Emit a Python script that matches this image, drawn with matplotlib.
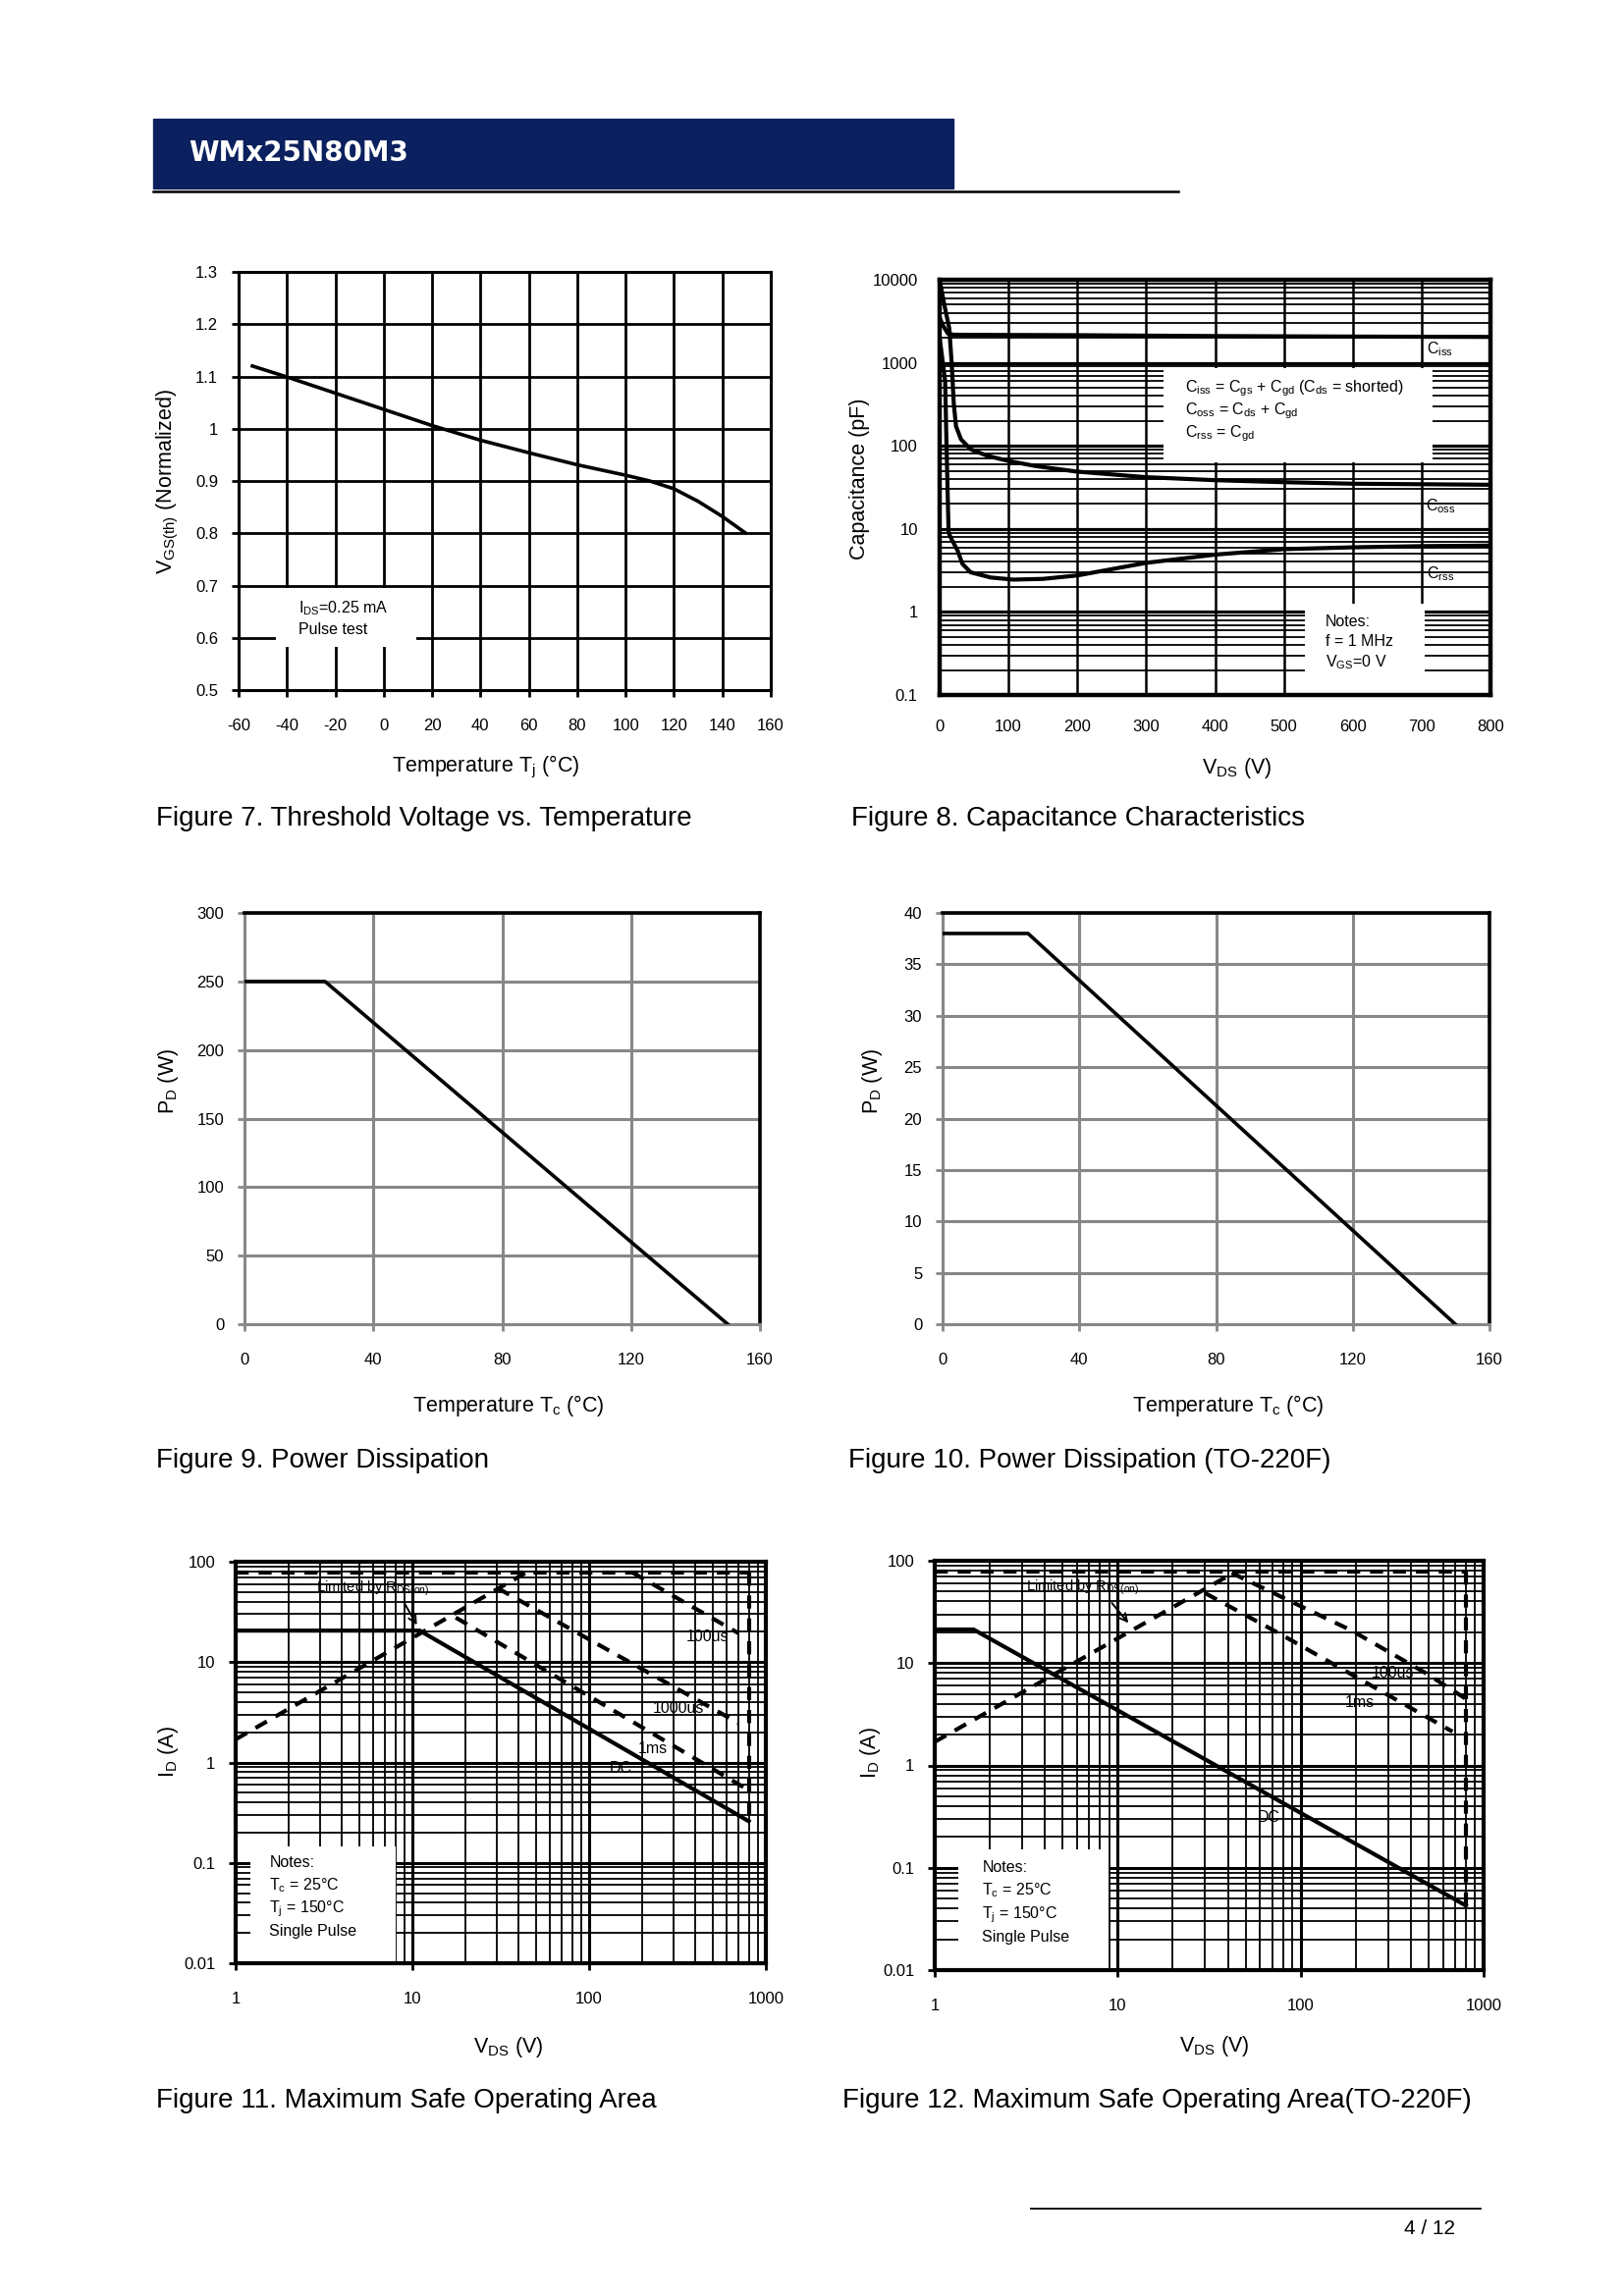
import matplotlib
matplotlib.use('Agg')
import matplotlib.pyplot as plt
from matplotlib.patches import Rectangle
from matplotlib.lines import Line2D
from matplotlib.ticker import FixedLocator, LogLocator, NullFormatter
import numpy as np

plt.rcParams['font.family'] = ['Liberation Sans', 'DejaVu Sans']
plt.rcParams['mathtext.fontset'] = 'custom'
plt.rcParams['mathtext.rm'] = 'Liberation Sans'
plt.rcParams['mathtext.it'] = 'Liberation Sans:italic'
plt.rcParams['mathtext.bf'] = 'Liberation Sans:bold'
plt.rcParams['axes.unicode_minus'] = False

# ---------------- data ----------------
# Figure 7: threshold voltage vs temperature
vth_temp = [-55, -40, -20, 0, 20, 40, 60, 80, 100, 110, 120, 130, 140, 150]
vth_norm = [1.121, 1.099, 1.068, 1.037, 1.006, 0.978, 0.954, 0.931, 0.911, 0.900, 0.885, 0.861, 0.832, 0.799]
vth_xticks = [-60, -40, -20, 0, 20, 40, 60, 80, 100, 120, 140, 160]
vth_yticks = [0.5, 0.6, 0.7, 0.8, 0.9, 1.0, 1.1, 1.2, 1.3]
vth_ylabels = ['0.5', '0.6', '0.7', '0.8', '0.9', '1', '1.1', '1.2', '1.3']

# Figure 8: capacitance
ciss_v = [0, 5, 12, 20, 50, 200, 400, 600, 800]
ciss_c = [3500, 2800, 2250, 2180, 2170, 2150, 2100, 2070, 2050]
coss_v = [0, 7, 14, 17.6, 20.5, 23.8, 31, 45, 69, 99, 140, 199, 299, 400, 500, 600, 700, 800]
coss_c = [10000, 4900, 2600, 960, 325, 172, 120, 91, 76, 66, 57, 49, 42, 38.6, 36.5, 35, 34.5, 34]
crss_v = [0, 4, 8, 10, 12, 13, 17, 26, 33, 45, 74, 107, 150, 200, 300, 400, 500, 600, 700, 800]
crss_c = [2000, 1100, 600, 100, 20, 9, 7.6, 5.5, 3.8, 3.0, 2.6, 2.45, 2.5, 2.75, 3.9, 4.9, 5.7, 6.0, 6.2, 6.3]
cap_yticks = [0.1, 1, 10, 100, 1000, 10000]
cap_ylabels = ['0.1', '1', '10', '100', '1000', '10000']
cap_xticks = [0, 100, 200, 300, 400, 500, 600, 700, 800]

# Figure 9 / 10: power dissipation
pd_temp = [0, 25, 150]
pd_w = [250, 250, 0]
pd_f_w = [38, 38, 0]
pd_xticks = [0, 40, 80, 120, 160]
pd_yticks = [0, 50, 100, 150, 200, 250, 300]
pd_f_yticks = [0, 5, 10, 15, 20, 25, 30, 35, 40]

# Figure 11: SOA
soa_xticks = [1, 10, 100, 1000]
soa_yticks = [0.01, 0.1, 1, 10, 100]
soa_ylabels = ['0.01', '0.1', '1', '10', '100']
soa_xlabels = ['1', '10', '100', '1000']
soa_imax = 78
soa_vmax = 800
s11_dc_v = [1, 11, 800]
s11_dc_i = [20.6, 20.6, 0.26]
s11_rds_v = [1, 44]
s11_rds_i = [1.7, 78]
s11_100us_v = [176, 700]
s11_100us_i = [78, 19.4]
s11_1000us_v = [30.4, 700]
s11_1000us_i = [54.5, 2.47]
s11_1ms_v = [17.6, 785]
s11_1ms_i = [27.8, 0.54]

# Figure 12: SOA (TO-220F)
s12_dc_v = [1, 1.63, 800]
s12_dc_i = [21.3, 21.3, 0.0427]
s12_rds_v = [1, 44]
s12_rds_i = [1.7, 78]
s12_100us_v = [42, 96.6, 189, 485, 796]
s12_100us_i = [76, 37.1, 20.9, 7.95, 4.5]
s12_1ms_v = [30.1, 77.5, 210, 676]
s12_1ms_i = [48.2, 19.2, 7.0, 2.14]

# ---------------- figure ----------------
W, H = 1654, 2339
fig = plt.figure(figsize=(W / 100, H / 100), dpi=100)


def rect(x0, y0, x1, y1):
    return [x0 / W, 1 - y1 / H, (x1 - x0) / W, (y1 - y0) / H]


def fx(x):
    return x / W


def fy(y):
    return 1 - y / H


TICK_FS = 12
LAB_FS = 15.5
CAP_FS = 20
NOTE_FS = 11.5


def set_labels(ax, xl, yl, xlc, ylc):
    ax.set_xlabel(xl, fontsize=LAB_FS)
    ax.set_ylabel(yl, fontsize=LAB_FS)
    ax.xaxis.label.set_va('center')
    ax.yaxis.label.set_va('center')
    ax.xaxis.set_label_coords(*xlc)
    ax.yaxis.set_label_coords(*ylc)


# header
fig.patches.append(Rectangle((fx(156), fy(192)), (971 - 156) / W, (192 - 121) / H,
                             transform=fig.transFigure, color='#0b205e', zorder=0))
fig.add_artist(Line2D([fx(156), fx(1200)], [fy(195), fy(195)], color='k', lw=1.8))
fig.text(fx(192), fy(156), 'WMx25N80M3', color='white', fontsize=20,
         fontweight='bold', family='DejaVu Sans', va='center', ha='left')

# footer
fig.add_artist(Line2D([fx(1050), fx(1508)], [fy(2250), fy(2250)], color='k', lw=1.3))
fig.text(fx(1482), fy(2270), '4 / 12', ha='right', va='center', fontsize=15)

# captions
fig.text(fx(159), fy(834), 'Figure 7. Threshold Voltage vs. Temperature', fontsize=CAP_FS, va='center')
fig.text(fx(867), fy(834), 'Figure 8. Capacitance Characteristics', fontsize=CAP_FS, va='center')
fig.text(fx(159), fy(1488), 'Figure 9. Power Dissipation', fontsize=CAP_FS, va='center')
fig.text(fx(864), fy(1488), 'Figure 10. Power Dissipation (TO-220F)', fontsize=CAP_FS, va='center')
fig.text(fx(159), fy(2140), 'Figure 11. Maximum Safe Operating Area', fontsize=CAP_FS, va='center')
fig.text(fx(858), fy(2140), 'Figure 12. Maximum Safe Operating Area(TO-220F)', fontsize=CAP_FS, va='center')

# ---------- Figure 7 ----------
ax = fig.add_axes(rect(243, 277, 785, 703))
ax.set_xlim(-60, 160)
ax.set_ylim(0.5, 1.3)
ax.set_xticks(vth_xticks)
ax.set_yticks(vth_yticks)
ax.set_yticklabels(vth_ylabels)
ax.grid(color='k', lw=2.0)
ax.set_axisbelow(True)
for s in ax.spines.values():
    s.set_linewidth(2.2)
ax.tick_params(direction='out', length=5, width=2, labelsize=TICK_FS)
ax.tick_params(axis='x', pad=16)
ax.tick_params(axis='y', pad=10)
ax.add_patch(Rectangle((-44.5, 0.582), 57.9, 0.114, fc='white', ec='none', zorder=1))
ax.text(-35.3, 0.657, '$\\mathregular{I_{DS}}$=0.25 mA', fontsize=NOTE_FS, va='center', zorder=3)
ax.text(-35.3, 0.616, 'Pulse test', fontsize=NOTE_FS, va='center', zorder=3)
ax.plot(vth_temp, vth_norm, color='k', lw=2.6, zorder=3, solid_capstyle='butt')
set_labels(ax, 'Temperature T$_{\\mathregular{j}}$ (°C)', '$\\mathregular{V_{GS(th)}}$ (Normalized)',
           (0.465, -0.185), (-0.133, 0.5))

# ---------- Figure 8 ----------
ax = fig.add_axes(rect(957, 285, 1518, 708))
ax.set_yscale('log')
ax.set_xlim(0, 800)
ax.set_ylim(0.1, 10000)
ax.set_xticks(cap_xticks)
ax.yaxis.set_major_locator(FixedLocator(cap_yticks))
ax.set_yticklabels(cap_ylabels)
ax.yaxis.set_minor_locator(LogLocator(base=10, subs=np.arange(2, 10)))
ax.yaxis.set_minor_formatter(NullFormatter())
ax.grid(which='major', axis='y', color='k', lw=2.3)
ax.grid(which='minor', axis='y', color='k', lw=1.3)
ax.grid(which='major', axis='x', color='k', lw=1.8)
ax.set_axisbelow(True)
for s in ax.spines.values():
    s.set_linewidth(3.2)
ax.tick_params(which='both', length=0, labelsize=TICK_FS)
ax.tick_params(axis='x', pad=18)
ax.tick_params(axis='y', pad=16)
ax.add_patch(Rectangle((325, 63), 391, 870 - 63, fc='white', ec='none', zorder=1))
ax.add_patch(Rectangle((530, 0.1), 175, 1.25 - 0.1, fc='white', ec='none', zorder=1))
ax.text(356, 490, 'C$_{\\mathregular{iss}}$ = C$_{\\mathregular{gs}}$ + C$_{\\mathregular{gd}}$ (C$_{\\mathregular{ds}}$ = shorted)',
        fontsize=NOTE_FS, va='center', zorder=3)
ax.text(356, 262, 'C$_{\\mathregular{oss}}$ = C$_{\\mathregular{ds}}$ + C$_{\\mathregular{gd}}$', fontsize=NOTE_FS, va='center', zorder=3)
ax.text(356, 140, 'C$_{\\mathregular{rss}}$ = C$_{\\mathregular{gd}}$', fontsize=NOTE_FS, va='center', zorder=3)
ax.text(560, 0.75, 'Notes:', fontsize=NOTE_FS, va='center', zorder=3)
ax.text(560, 0.44, 'f = 1 MHz', fontsize=NOTE_FS, va='center', zorder=3)
ax.text(560, 0.25, 'V$_{\\mathregular{GS}}$=0 V', fontsize=NOTE_FS, va='center', zorder=3)
ax.text(708, 1450, 'C$_{\\mathregular{iss}}$', fontsize=NOTE_FS, va='center', zorder=3)
ax.text(706, 19, 'C$_{\\mathregular{oss}}$', fontsize=NOTE_FS, va='center', zorder=3)
ax.text(708, 2.9, 'C$_{\\mathregular{rss}}$', fontsize=NOTE_FS, va='center', zorder=3)
for v, c in ((ciss_v, ciss_c), (coss_v, coss_c), (crss_v, crss_c)):
    ax.plot(v, c, color='k', lw=3.0, zorder=3, solid_joinstyle='round')
set_labels(ax, 'V$_{\\mathregular{DS}}$ (V)', 'Capacitance (pF)', (0.54, -0.175), (-0.146, 0.52))


# ---------- Figure 9 / 10 ----------
def pd_axes(r, yvals, yticks, xlc, ylc):
    ax = fig.add_axes(r)
    ax.set_xlim(0, 160)
    ax.set_ylim(yticks[0], yticks[-1])
    ax.set_xticks(pd_xticks)
    ax.set_yticks(yticks)
    ax.grid(color='#878787', lw=2.2)
    ax.set_axisbelow(True)
    for k in ('left', 'bottom'):
        ax.spines[k].set_color('#878787')
        ax.spines[k].set_linewidth(2.2)
    for k in ('top', 'right'):
        ax.spines[k].set_color('k')
        ax.spines[k].set_linewidth(2.6)
    ax.tick_params(direction='out', length=5, width=2, color='#878787', labelsize=TICK_FS)
    ax.tick_params(axis='x', pad=16)
    ax.tick_params(axis='y', pad=10)
    ax.plot(pd_temp, yvals, color='k', lw=2.6, zorder=3)
    set_labels(ax, 'Temperature T$_{\\mathregular{c}}$ (°C)', '$\\mathregular{P_D}$ (W)', xlc, ylc)
    return ax


pd_axes(rect(249, 930, 774, 1349), pd_w, pd_yticks, (0.512, -0.198), (-0.147, 0.59))
pd_axes(rect(960, 930, 1517, 1349), pd_f_w, pd_f_yticks, (0.522, -0.198), (-0.129, 0.59))


# ---------- Figure 11 / 12 ----------
DASH = (0, (3.2, 2.4))


def soa_axes(r, xlc, ylc):
    ax = fig.add_axes(r)
    ax.set_xscale('log')
    ax.set_yscale('log')
    ax.set_xlim(1, 1000)
    ax.set_ylim(0.01, 100)
    ax.xaxis.set_major_locator(FixedLocator(soa_xticks))
    ax.yaxis.set_major_locator(FixedLocator(soa_yticks))
    ax.set_xticklabels(soa_xlabels)
    ax.set_yticklabels(soa_ylabels)
    for a in (ax.xaxis, ax.yaxis):
        a.set_minor_locator(LogLocator(base=10, subs=np.arange(2, 10)))
        a.set_minor_formatter(NullFormatter())
    ax.grid(which='major', color='k', lw=2.2)
    ax.grid(which='minor', color='k', lw=1.3)
    ax.set_axisbelow(True)
    for s in ax.spines.values():
        s.set_linewidth(3.0)
    ax.tick_params(which='major', direction='out', length=5, width=2, labelsize=TICK_FS)
    ax.tick_params(which='minor', length=0)
    ax.tick_params(axis='x', pad=16)
    ax.tick_params(axis='y', pad=10)
    set_labels(ax, 'V$_{\\mathregular{DS}}$ (V)', '$\\mathregular{I_D}$ (A)', xlc, ylc)
    return ax


def notes(ax, x0, x1, y1, tx):
    ax.add_patch(Rectangle((x0, 0.01), x1 - x0, y1 - 0.01, fc='white', ec='none', zorder=1))
    ax.text(tx, 0.1, 'Notes:', fontsize=NOTE_FS, va='center', zorder=3)
    ax.text(tx, 0.060, 'T$_{\\mathregular{c}}$ = 25°C', fontsize=NOTE_FS, va='center', zorder=3)
    ax.text(tx, 0.035, 'T$_{\\mathregular{j}}$ = 150°C', fontsize=NOTE_FS, va='center', zorder=3)
    ax.text(tx, 0.021, 'Single Pulse', fontsize=NOTE_FS, va='center', zorder=3)


# Fig 11
ax = soa_axes(rect(240, 1591, 780, 2000), (0.515, -0.208), (-0.126, 0.526))
notes(ax, 1.21, 8.0, 0.147, 1.55)
ax.plot(s11_dc_v, s11_dc_i, color='k', lw=3.0, zorder=3)
ax.plot([1, soa_vmax], [soa_imax, soa_imax], color='k', lw=3.0, ls=DASH, zorder=3)
ax.plot([soa_vmax, soa_vmax], [soa_imax, s11_dc_i[-1]], color='k', lw=3.0, ls=DASH, zorder=3)
for v, i in ((s11_rds_v, s11_rds_i), (s11_100us_v, s11_100us_i),
             (s11_1000us_v, s11_1000us_i), (s11_1ms_v, s11_1ms_i)):
    ax.plot(v, i, color='k', lw=3.0, ls=DASH, zorder=3)
ax.text(2.87, 54, 'Limited by R$_{\\mathregular{DS(on)}}$', fontsize=10.5, va='center', zorder=2.8)
ax.annotate('', xy=(10.8, 22.2), xytext=(8.8, 41.6), zorder=4,
            arrowprops=dict(arrowstyle='->', lw=1.4, color='k', mutation_scale=14))
ax.text(466, 17.8, '100us', fontsize=NOTE_FS, ha='center', va='center', zorder=2.8)
ax.text(322, 3.47, '1000us', fontsize=NOTE_FS, ha='center', va='center', zorder=2.8)
ax.text(228, 1.38, '1ms', fontsize=NOTE_FS, ha='center', va='center', zorder=2.8)
ax.text(151, 0.88, 'DC', fontsize=NOTE_FS, ha='center', va='center', zorder=2.8)

# Fig 12
ax = soa_axes(rect(952, 1590, 1511, 2007), (0.51, -0.187), (-0.118, 0.53))
notes(ax, 1.34, 8.86, 0.152, 1.82)
ax.plot(s12_dc_v, s12_dc_i, color='k', lw=3.0, zorder=3)
ax.plot([1, soa_vmax], [soa_imax, soa_imax], color='k', lw=3.0, ls=DASH, zorder=3)
ax.plot([soa_vmax, soa_vmax], [soa_imax, s12_dc_i[-1]], color='k', lw=3.0, ls=DASH, zorder=3)
for v, i in ((s12_rds_v, s12_rds_i), (s12_100us_v, s12_100us_i), (s12_1ms_v, s12_1ms_i)):
    ax.plot(v, i, color='k', lw=3.0, ls=DASH, zorder=3)
ax.text(3.17, 55, 'Limited by R$_{\\mathregular{DS(on)}}$', fontsize=10.5, va='center', zorder=2.8)
ax.annotate('', xy=(11.7, 23.5), xytext=(9.1, 40.5), zorder=4,
            arrowprops=dict(arrowstyle='->', lw=1.4, color='k', mutation_scale=14))
ax.text(319, 7.98, '100us', fontsize=NOTE_FS, ha='center', va='center', zorder=2.8)
ax.text(210, 4.11, '1ms', fontsize=NOTE_FS, ha='center', va='center', zorder=2.8)
ax.text(67.3, 0.31, 'DC', fontsize=NOTE_FS, ha='center', va='center', zorder=2.8)

fig.savefig('out.png', dpi=100)
